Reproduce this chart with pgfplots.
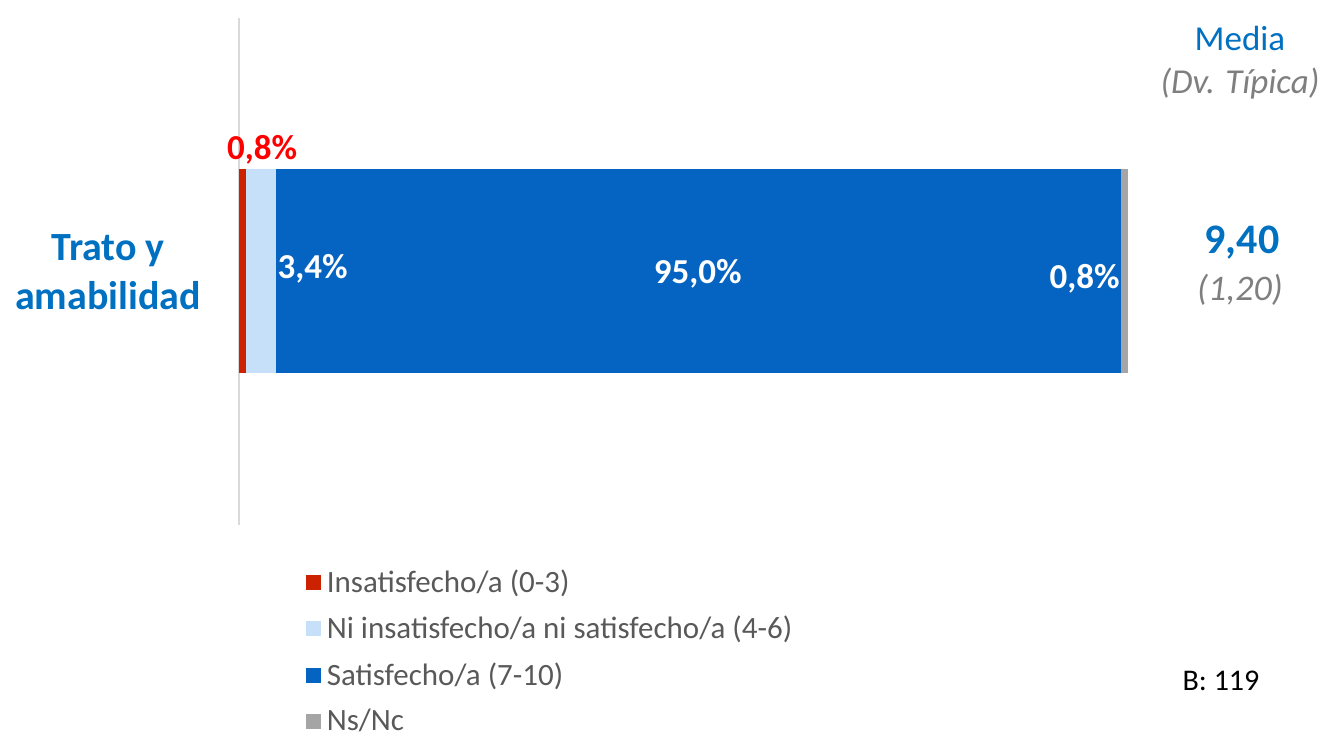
\documentclass[border=0pt]{standalone}
\usepackage{pgfplots}
\pgfplotsset{compat=1.18}
\usepackage{fontspec}
\setmainfont{Carlito}
\definecolor{cRed}{HTML}{CC2200}
\definecolor{cLight}{HTML}{C5E0F8}
\definecolor{cBlue}{HTML}{0563C1}
\definecolor{cGray}{HTML}{A5A5A5}
\definecolor{tBlue}{HTML}{0070C0}
\definecolor{tGray}{HTML}{7F7F7F}
\definecolor{lGray}{HTML}{595959}
\begin{document}
\begin{tikzpicture}
\path[use as bounding box] (0bp,0bp) rectangle (662bp,368.5bp);
\begin{axis}[
  at={(119.5bp,106bp)}, anchor=south west,
  scale only axis, width=444.5bp, height=253.5bp,
  xmin=0, xmax=100, ymin=-1, ymax=1,
  xbar stacked, bar width=102bp,
  axis x line=none, axis y line*=left,
  y axis line style={draw=black!15, line width=0.8pt},
  ytick=\empty, xtick=\empty,
  clip=false,
  legend style={at={(0.068,-0.071)}, anchor=north west, draw=none, fill=none,
    font=\fontsize{15.5bp}{18bp}\selectfont\color{lGray}, row sep=6.5bp,
    nodes={inner sep=2bp}},
  legend cell align=left,
  legend image code/.code={\path[#1,draw=none] (-1.5bp,-3.75bp) rectangle (6bp,3.75bp);},
]
\addplot+[fill=cRed, draw=none] coordinates {(0.8,0)};
\addlegendentry{\hspace{1bp}Insatisfecho/a (0-3)}
\addplot+[fill=cLight, draw=none] coordinates {(3.4,0)};
\addlegendentry{\hspace{1bp}Ni insatisfecho/a ni satisfecho/a (4-6)}
\addplot+[fill=cBlue, draw=none] coordinates {(95.0,0)};
\addlegendentry{\hspace{1bp}Satisfecho/a (7-10)}
\addplot+[fill=cGray, draw=none] coordinates {(0.8,0)};
\addlegendentry{\hspace{1bp}Ns/Nc}
\coordinate (l1) at (axis cs:2.6,0.48);
\coordinate (l2) at (axis cs:3.55,0.01);
\coordinate (l3) at (axis cs:51.6,-0.01);
\coordinate (l4) at (axis cs:99.85,-0.03);
\end{axis}
\node[text=red, font=\fontsize{17.5bp}{20bp}\selectfont\bfseries] at (l1) {0,8\%};
\node[text=white, font=\fontsize{17.5bp}{20bp}\selectfont\bfseries, anchor=west] at (l2) {3,4\%};
\node[text=white, font=\fontsize{17.5bp}{20bp}\selectfont\bfseries] at (l3) {95,0\%};
\node[text=white, font=\fontsize{17.5bp}{20bp}\selectfont\bfseries, anchor=east] at (l4) {0,8\%};
\begin{scope}[x=0.5bp,y=-0.5bp,shift={(0bp,368.5bp)}]
\node[text=tBlue, font=\fontsize{20bp}{24.5bp}\selectfont\bfseries, align=center] at (108,272) {Trato y\\amabilidad};
\node[text=tBlue, font=\fontsize{17.5bp}{20bp}\selectfont] at (1240,38) {Media};
\node[text=tGray, font=\fontsize{17.5bp}{20bp}\selectfont\itshape] at (1240,84) {(Dv. Típica)};
\node[text=tBlue, font=\fontsize{21bp}{24bp}\selectfont\bfseries] at (1242,243) {9,40};
\node[text=tGray, font=\fontsize{18bp}{20bp}\selectfont\itshape] at (1240,290) {(1,20)};
\node[text=black, font=\fontsize{15bp}{17bp}\selectfont] at (1221,681) {B: 119};
\end{scope}
\end{tikzpicture}
\end{document}
